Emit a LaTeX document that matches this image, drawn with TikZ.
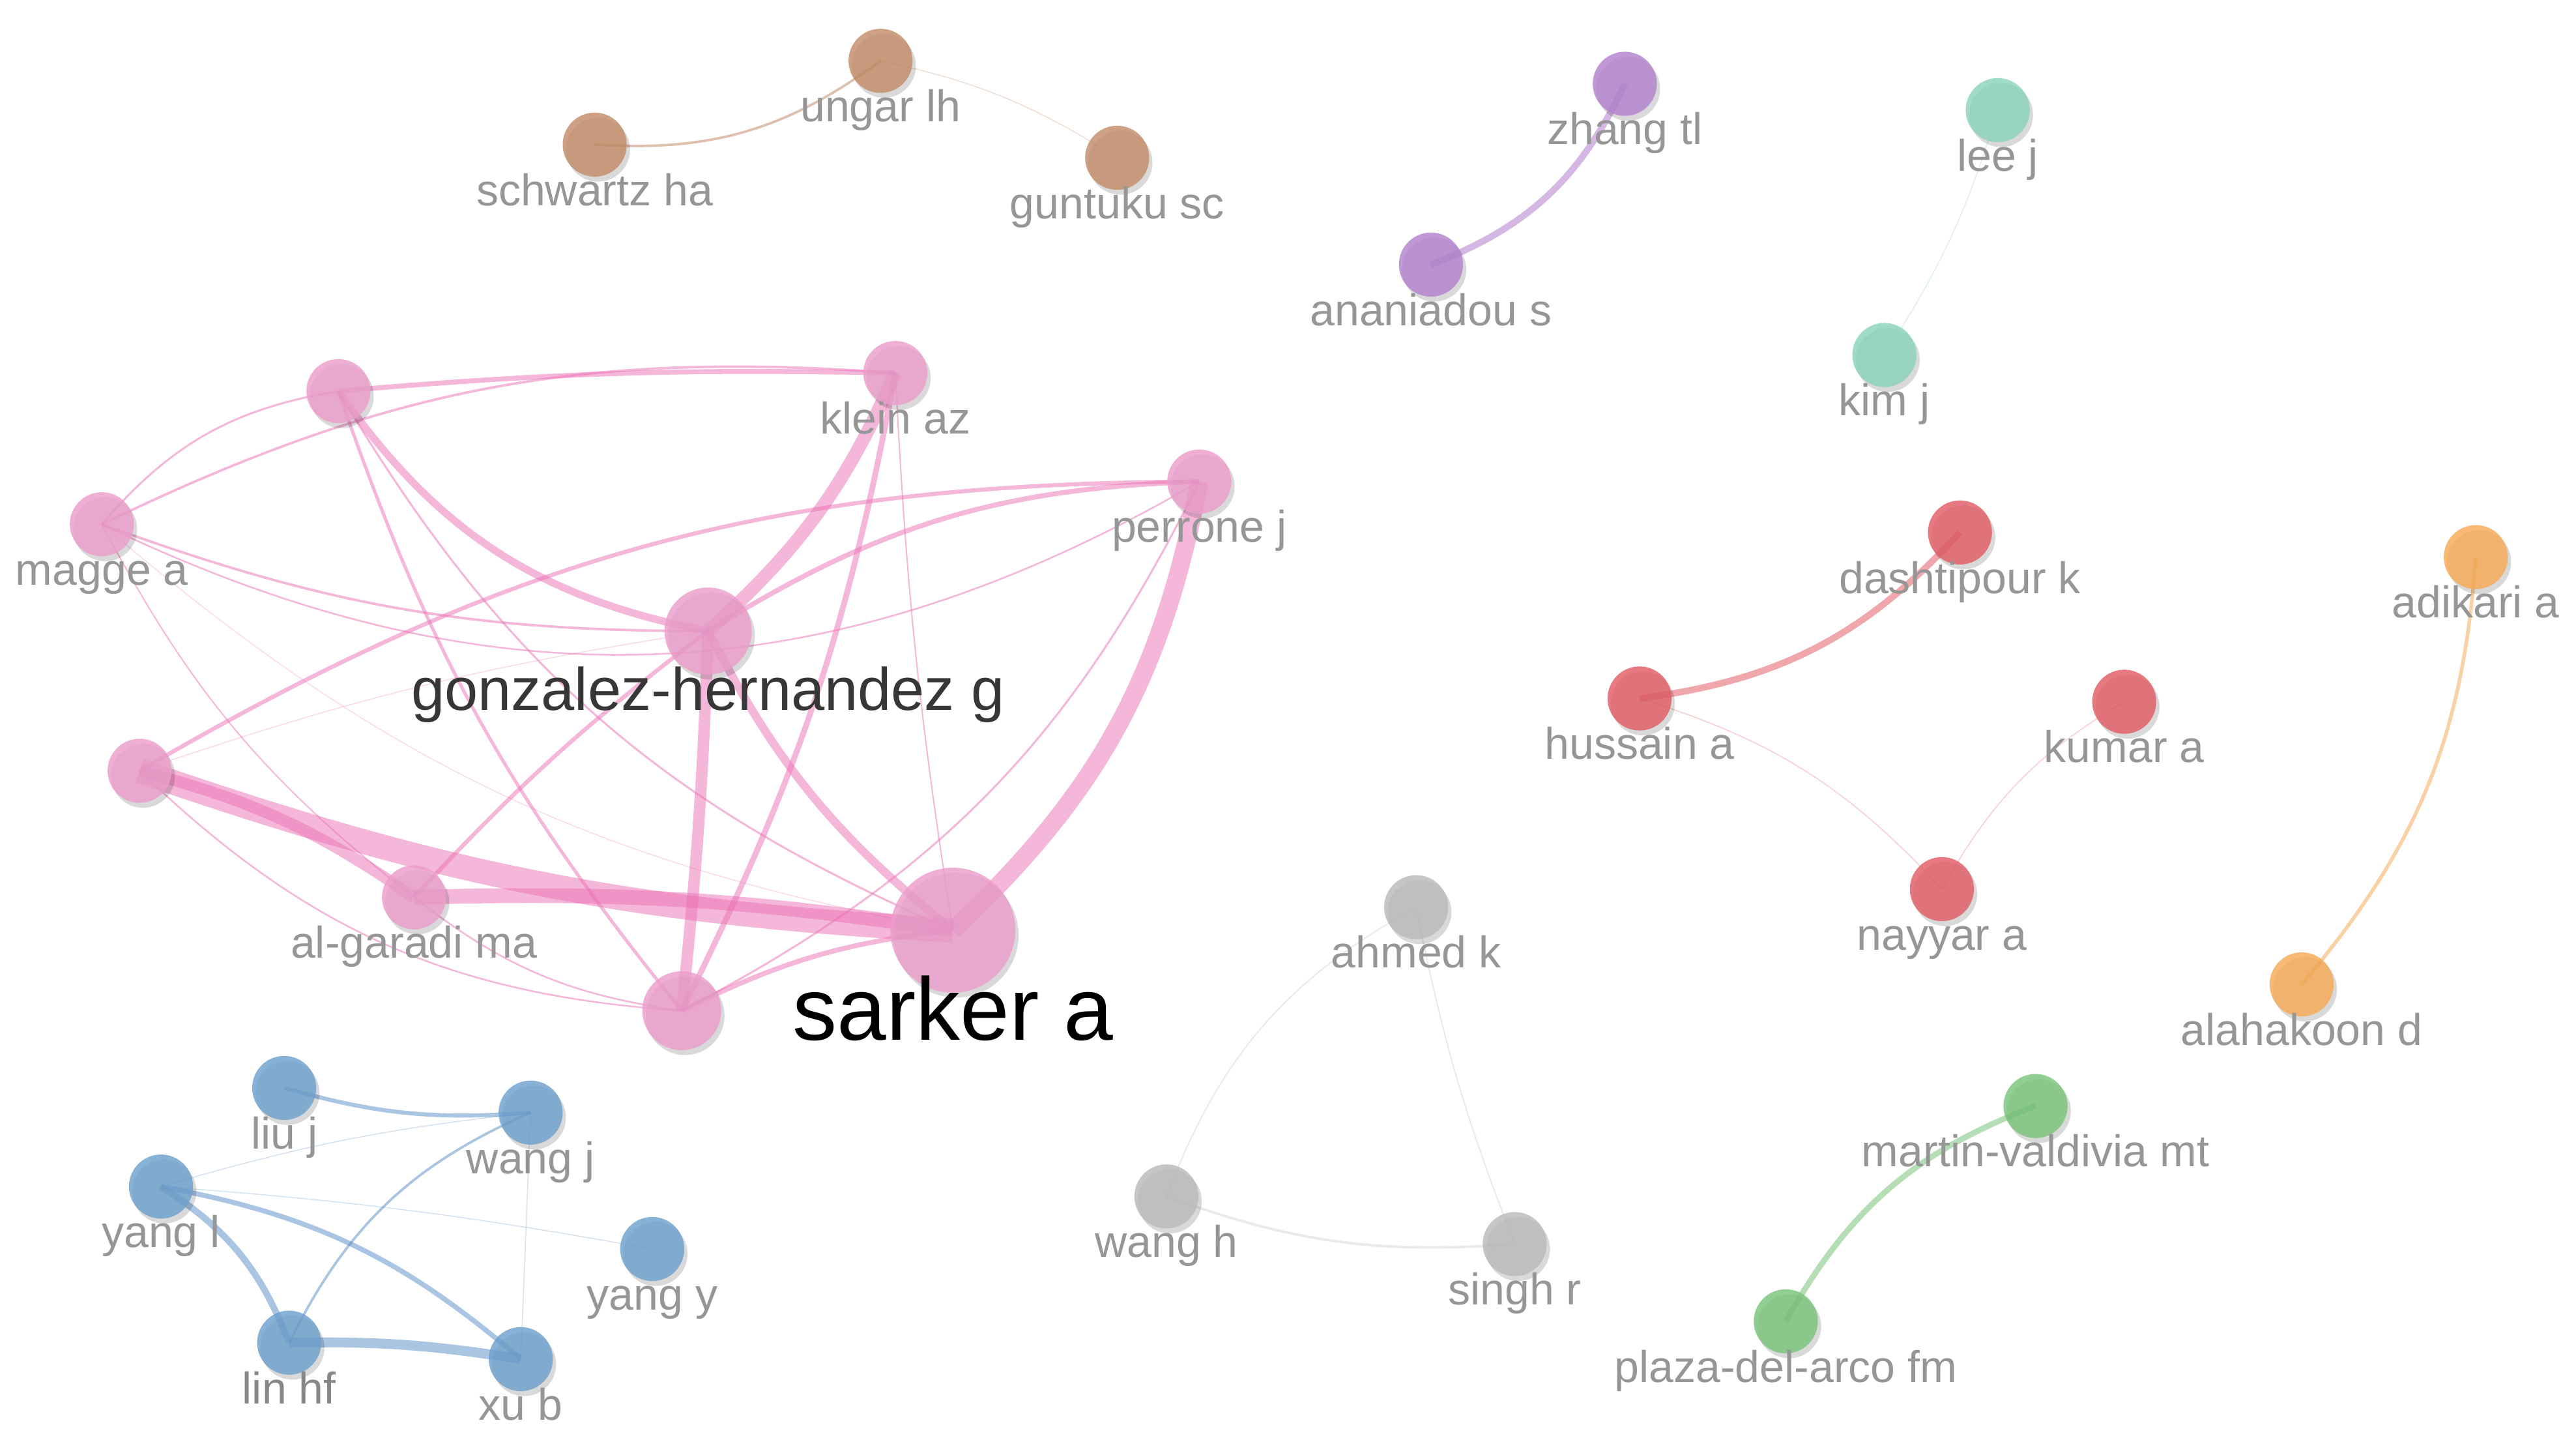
\documentclass[tikz,border=0pt]{standalone}
\usepackage{fontspec}
\setmainfont{Liberation Sans}
\usetikzlibrary{calc,shadows}
\definecolor{pinkN}{RGB}{236,158,204}
\definecolor{pinkE}{RGB}{236,112,180}
\definecolor{blueN}{RGB}{110,160,206}
\definecolor{blueE}{RGB}{85,140,198}
\definecolor{brownN}{RGB}{196,140,105}
\definecolor{brownE}{RGB}{190,130,95}
\definecolor{purpN}{RGB}{180,130,206}
\definecolor{purpE}{RGB}{170,115,200}
\definecolor{tealN}{RGB}{140,212,190}
\definecolor{tealE}{RGB}{120,200,175}
\definecolor{redN}{RGB}{226,92,102}
\definecolor{redE}{RGB}{225,80,90}
\definecolor{oranN}{RGB}{246,170,85}
\definecolor{oranE}{RGB}{246,165,75}
\definecolor{grayN}{RGB}{186,186,186}
\definecolor{grayE}{RGB}{175,175,175}
\definecolor{greenN}{RGB}{122,196,122}
\definecolor{greenE}{RGB}{110,190,110}
\definecolor{labG}{RGB}{150,150,150}
\definecolor{gonzG}{RGB}{55,55,55}
\definecolor{linG}{RGB}{135,135,135}
\tikzset{
  ed/.style 2 args={draw=#1, line width=#2, draw opacity=0.5},
  faint/.style={draw opacity=0.25},
  nd/.style={circle, inner sep=0pt, minimum size=39pt, fill=#1, fill opacity=0.82,
     drop shadow={shadow xshift=2pt, shadow yshift=-3pt, opacity=0.15, fill=black}},
  lab/.style={text=labG, font=\fontsize{27}{30}\selectfont, anchor=base, inner sep=0pt}
}
\begin{document}
\begin{tikzpicture}[x=1pt,y=1pt]
\useasboundingbox (0,0) rectangle (1568,-876);
\fill[white] (0,0) rectangle (1568,-876);
% coordinates
\coordinate (m) at (62,-319);
\coordinate (p1) at (206,-238);
\coordinate (k) at (545,-227);
\coordinate (pj) at (730,-293);
\coordinate (g) at (431,-384);
\coordinate (p2) at (85,-469);
\coordinate (ag) at (252,-546);
\coordinate (s) at (580,-566);
\coordinate (p3) at (415,-615);
\coordinate (liu) at (173,-662);
\coordinate (wj) at (323,-677);
\coordinate (yl) at (98,-722);
\coordinate (yy) at (397,-760);
\coordinate (lin) at (176,-817);
\coordinate (xu) at (317,-827);
\coordinate (ung) at (536,-37);
\coordinate (sch) at (362,-88);
\coordinate (gun) at (680,-96);
\coordinate (zh) at (989,-51);
\coordinate (an) at (871,-161);
\coordinate (lee) at (1216,-67);
\coordinate (kim) at (1147,-216);
\coordinate (da) at (1193,-324);
\coordinate (hu) at (998,-425);
\coordinate (ku) at (1293,-427);
\coordinate (na) at (1182,-541);
\coordinate (adi) at (1507,-339);
\coordinate (ala) at (1401,-599);
\coordinate (ah) at (862,-552);
\coordinate (wh) at (710,-728);
\coordinate (si) at (922,-757);
\coordinate (mv) at (1239,-673);
\coordinate (pl) at (1087,-804);
% pink edges
\draw[ed={pinkE}{1.2}] (m) to[bend left=20] (p1);
\draw[ed={pinkE}{1.5}] (m) to[bend left=15] (k);
\draw[ed={pinkE}{1.5}] (m) to[bend right=10] (g);
\draw[ed={pinkE}{1.0}] (m) to[bend right=28] (pj);
\draw[ed={pinkE}{0.8}] (m) to[bend right=12] (ag);
\draw[ed={pinkE}{0.6},faint] (m) to[bend right=15] (s);
\draw[ed={pinkE}{3}] (p1) to[bend left=3] (k);
\draw[ed={pinkE}{4.5}] (p1) to[bend right=22] (g);
\draw[ed={pinkE}{2}] (p1) to[bend right=10] (p3);
\draw[ed={pinkE}{1.2}] (p1) to[bend right=18] (s);
\draw[ed={pinkE}{8}] (k) to[bend left=12] (g);
\draw[ed={pinkE}{3.5}] (k) to[bend left=8] (p3);
\draw[ed={pinkE}{0.8}] (k) to[bend right=3] (s);
\draw[ed={pinkE}{2.5}] (pj) to[bend right=15] (p2);
\draw[ed={pinkE}{3}] (pj) to[bend right=15] (g);
\draw[ed={pinkE}{11}] (pj) to[bend left=18] (s);
\draw[ed={pinkE}{1.2}] (pj) to[bend left=18] (p3);
\draw[ed={pinkE}{5}] (g) to[bend right=12] (s);
\draw[ed={pinkE}{7}] (g) to[bend left=2] (p3);
\draw[ed={pinkE}{2.5}] (g) to[bend right=5] (ag);
\draw[ed={pinkE}{0.6},faint] (p2) to[bend left=5] (g);
\draw[ed={pinkE}{7}] (p2) to[bend left=10] (ag);
\draw[ed={pinkE}{15}] (p2) to[bend right=8] (s);
\draw[ed={pinkE}{9}] (ag) to[bend left=5] (s);
\draw[ed={pinkE}{1}] (p2) to[bend right=20] (p3);
\draw[ed={pinkE}{1}] (ag) to[bend right=15] (p3);
\draw[ed={pinkE}{3}] (p3) to[bend left=10] (s);
% blue edges
\draw[ed={blueE}{2.5}] (liu) to[bend right=10] (wj);
\draw[ed={blueE}{0.6},faint] (yl) to[bend left=5] (wj);
\draw[ed={blueE}{0.6},faint] (yl) to[bend left=3] (yy);
\draw[ed={blueE}{4}] (yl) to[bend left=18] (lin);
\draw[ed={blueE}{3}] (yl) to[bend left=15] (xu);
\draw[ed={blueE}{1.5}] (lin) to[bend left=20] (wj);
\draw[ed={blueE}{6}] (lin) to[bend left=5] (xu);
\draw[ed={blueE}{0.6},faint] (wj) -- (xu);
% brown, purple, teal
\draw[ed={brownE}{1.5}] (sch) to[bend right=20] (ung);
\draw[ed={brownE}{0.6},faint] (ung) to[bend left=10] (gun);
\draw[ed={purpE}{4}] (an) to[bend right=22] (zh);
\draw[ed={tealE}{0.6},faint] (kim) to[bend right=8] (lee);
% red, orange
\draw[ed={redE}{4}] (hu) to[bend right=20] (da);
\draw[ed={redE}{0.7},faint] (hu) to[bend left=15] (na);
\draw[ed={redE}{0.7},faint] (ku) to[bend right=15] (na);
\draw[ed={oranE}{2.2}] (ala) to[bend right=18] (adi);
% gray, green
\draw[ed={grayE}{0.8},faint] (ah) to[bend right=20] (wh);
\draw[ed={grayE}{0.8},faint] (ah) to[bend right=5] (si);
\draw[ed={grayE}{1.5},faint] (wh) to[bend right=12] (si);
\draw[ed={greenE}{3.5}] (pl) to[bend left=20] (mv);
% nodes
\node[nd=pinkN] (m-n) at (m) {};
\node[nd=pinkN] (p1-n) at (p1) {};
\node[nd=pinkN] (k-n) at (k) {};
\node[nd=pinkN] (pj-n) at (pj) {};
\node[nd=pinkN, minimum size=53pt] (g-n) at (g) {};
\node[nd=pinkN] (p2-n) at (p2) {};
\node[nd=pinkN] (ag-n) at (ag) {};
\node[nd=pinkN, minimum size=76pt] (s-n) at (s) {};
\node[nd=pinkN, minimum size=48pt] (p3-n) at (p3) {};
\node[nd=blueN] (liu-n) at (liu) {};
\node[nd=blueN] (wj-n) at (wj) {};
\node[nd=blueN] (yl-n) at (yl) {};
\node[nd=blueN] (yy-n) at (yy) {};
\node[nd=blueN] (lin-n) at (lin) {};
\node[nd=blueN] (xu-n) at (xu) {};
\node[nd=brownN] (ung-n) at (ung) {};
\node[nd=brownN] (sch-n) at (sch) {};
\node[nd=brownN] (gun-n) at (gun) {};
\node[nd=purpN] (zh-n) at (zh) {};
\node[nd=purpN] (an-n) at (an) {};
\node[nd=tealN] (lee-n) at (lee) {};
\node[nd=tealN] (kim-n) at (kim) {};
\node[nd=redN] (da-n) at (da) {};
\node[nd=redN] (hu-n) at (hu) {};
\node[nd=redN] (ku-n) at (ku) {};
\node[nd=redN] (na-n) at (na) {};
\node[nd=oranN] (adi-n) at (adi) {};
\node[nd=oranN] (ala-n) at (ala) {};
\node[nd=grayN] (ah-n) at (ah) {};
\node[nd=grayN] (wh-n) at (wh) {};
\node[nd=grayN] (si-n) at (si) {};
\node[nd=greenN] (mv-n) at (mv) {};
\node[nd=greenN] (pl-n) at (pl) {};
% labels
\node[lab] (m-l) at ($(m)+(0,-37)$) {magge a};
\node[lab] (k-l) at ($(k)+(0,-37)$) {klein az};
\node[lab] (pj-l) at ($(pj)+(0,-37)$) {perrone j};
\node[lab] (ag-l) at ($(ag)+(0,-37)$) {al-garadi ma};
\node[lab, text=gonzG, font=\fontsize{36.5}{40}\selectfont] (g-l) at (431,-432) {gonzalez-hernandez g};
\node[lab, text=black, font=\fontsize{54}{60}\selectfont] (s-l) at (580,-633) {sarker a};
\node[lab] (liu-l) at ($(liu)+(0,-37)$) {liu j};
\node[lab] (wj-l) at ($(wj)+(0,-37)$) {wang j};
\node[lab] (yl-l) at ($(yl)+(0,-37)$) {yang l};
\node[lab] (yy-l) at ($(yy)+(0,-37)$) {yang y};
\node[lab, text=linG] (lin-l) at ($(lin)+(0,-37)$) {lin hf};
\node[lab] (xu-l) at ($(xu)+(0,-37)$) {xu b};
\node[lab] (ung-l) at ($(ung)+(0,-37)$) {ungar lh};
\node[lab] (sch-l) at ($(sch)+(0,-37)$) {schwartz ha};
\node[lab] (gun-l) at ($(gun)+(0,-37)$) {guntuku sc};
\node[lab] (zh-l) at ($(zh)+(0,-37)$) {zhang tl};
\node[lab] (an-l) at ($(an)+(0,-37)$) {ananiadou s};
\node[lab] (lee-l) at ($(lee)+(0,-37)$) {lee j};
\node[lab] (kim-l) at ($(kim)+(0,-37)$) {kim j};
\node[lab] (da-l) at ($(da)+(0,-37)$) {dashtipour k};
\node[lab] (hu-l) at ($(hu)+(0,-37)$) {hussain a};
\node[lab] (ku-l) at ($(ku)+(0,-37)$) {kumar a};
\node[lab] (na-l) at ($(na)+(0,-37)$) {nayyar a};
\node[lab] (adi-l) at ($(adi)+(0,-37)$) {adikari a};
\node[lab] (ala-l) at ($(ala)+(0,-37)$) {alahakoon d};
\node[lab] (ah-l) at ($(ah)+(0,-37)$) {ahmed k};
\node[lab] (wh-l) at ($(wh)+(0,-37)$) {wang h};
\node[lab] (si-l) at ($(si)+(0,-37)$) {singh r};
\node[lab] (mv-l) at ($(mv)+(0,-37)$) {martin-valdivia mt};
\node[lab] (pl-l) at ($(pl)+(0,-37)$) {plaza-del-arco fm};
\end{tikzpicture}
\end{document}
